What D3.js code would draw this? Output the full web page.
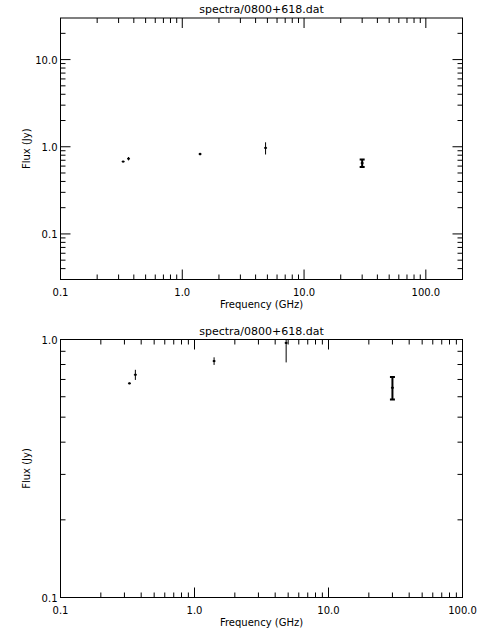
<!DOCTYPE html>
<html><head><meta charset="utf-8">
<script src="https://cdn.jsdelivr.net/npm/d3@7"></script>
<style>body{margin:0;background:#fff}text{font-family:"DejaVu Sans",sans-serif;font-size:10px;fill:#000}</style>
</head><body><svg id="c" width="480" height="640"></svg>
<script>
const title = "spectra/0800+618.dat";
const freq = [0.327, 0.362, 1.4, 4.83, 30];
const flux = [0.676, 0.73, 0.825, 0.97, 0.65];
const ferr = [0.005, 0.033, 0.028, 0.155, 0.065];
const capped = [false, false, false, false, true];
const xTicksTop = [0.1, 1, 10, 100];
const xLabels = ["0.1", "1.0", "10.0", "100.0"];
const yTicksTop = [0.1, 1, 10];
const yLabelsTop = ["0.1", "1.0", "10.0"];
const yTicksBot = [0.1, 1];
const yLabelsBot = ["0.1", "1.0"];

const svg = d3.select("#c");
function minors(lo, hi){const r=[];for(let e=-3;e<4;e++)for(let m=2;m<10;m++){const v=m*Math.pow(10,e);if(v>lo*1.0001&&v<hi*0.9999)r.push(v);}return r;}

function panel(cfg){
  const g = svg.append("g");
  const x = d3.scaleLog().domain(cfg.xd).range([60.5, 462.5]);
  const y = d3.scaleLog().domain(cfg.yd).range([cfg.y1, cfg.y0]);
  const [L,R]=x.range(), T=cfg.y0, B=cfg.y1;
  g.append("rect").attr("x",L).attr("y",T).attr("width",R-L).attr("height",B-T).attr("fill","none").attr("stroke","#000");
  const tk=(x1,y1,x2,y2)=>g.append("line").attr("x1",x1).attr("y1",y1).attr("x2",x2).attr("y2",y2).attr("stroke","#000");
  xTicksTop.filter(v=>v>=cfg.xd[0]&&v<=cfg.xd[1]).forEach((v,i)=>{const p=x(v);tk(p,B,p,B-10);tk(p,T,p,T+10);
    g.append("text").attr("x",p).attr("y",B+16).attr("text-anchor","middle").text(xLabels[xTicksTop.indexOf(v)]);});
  minors(cfg.xd[0],cfg.xd[1]).forEach(v=>{const p=x(v);tk(p,B,p,B-5);tk(p,T,p,T+5);});
  cfg.yt.forEach((v,i)=>{const p=y(v);tk(L,p,L+10,p);tk(R,p,R-10,p);
    g.append("text").attr("x",L-3).attr("y",p+4).attr("text-anchor","end").text(cfg.yl[i]);});
  minors(cfg.yd[0],cfg.yd[1]).forEach(v=>{const p=y(v);tk(L,p,L+5,p);tk(R,p,R-5,p);});
  g.append("text").attr("x",(L+R)/2).attr("y",T-5).attr("text-anchor","middle").style("font-size","11px").text(title);
  g.append("text").attr("x",(L+R)/2).attr("y",B+28).attr("text-anchor","middle").text("Frequency (GHz)");
  g.append("text").attr("transform",`translate(30,${(T+B)/2}) rotate(-90)`).attr("text-anchor","middle").text("Flux (Jy)");
  const cid="clip"+cfg.y0;
  svg.append("clipPath").attr("id",cid).append("rect").attr("x",L).attr("y",T).attr("width",R-L).attr("height",B-T);
  const d=g.append("g").attr("clip-path",`url(#${cid})`);
  freq.forEach((f,i)=>{
    const px=x(f), py=y(flux[i]), a=y(flux[i]+ferr[i]), b=y(flux[i]-ferr[i]);
    const w=capped[i]?2:1;
    d.append("line").attr("x1",px).attr("x2",px).attr("y1",a).attr("y2",b).attr("stroke","#000").attr("stroke-width",w);
    if(capped[i]){[a,b].forEach(q=>d.append("line").attr("x1",px-2.5).attr("x2",px+2.5).attr("y1",q).attr("y2",q).attr("stroke","#000").attr("stroke-width",2));}
    d.append("rect").attr("x",px-1).attr("y",py-1).attr("width",2).attr("height",2).attr("fill","#000");
    d.append("line").attr("x1",px-1.5).attr("x2",px+1.5).attr("y1",py).attr("y2",py).attr("stroke","#000");
  });
}
panel({xd:[0.1,200], yd:[0.03,30], y0:18, y1:279.5, yt:yTicksTop, yl:yLabelsTop});
panel({xd:[0.1,100], yd:[0.1,1], y0:339.5, y1:597.5, yt:yTicksBot, yl:yLabelsBot});
</script></body></html>
